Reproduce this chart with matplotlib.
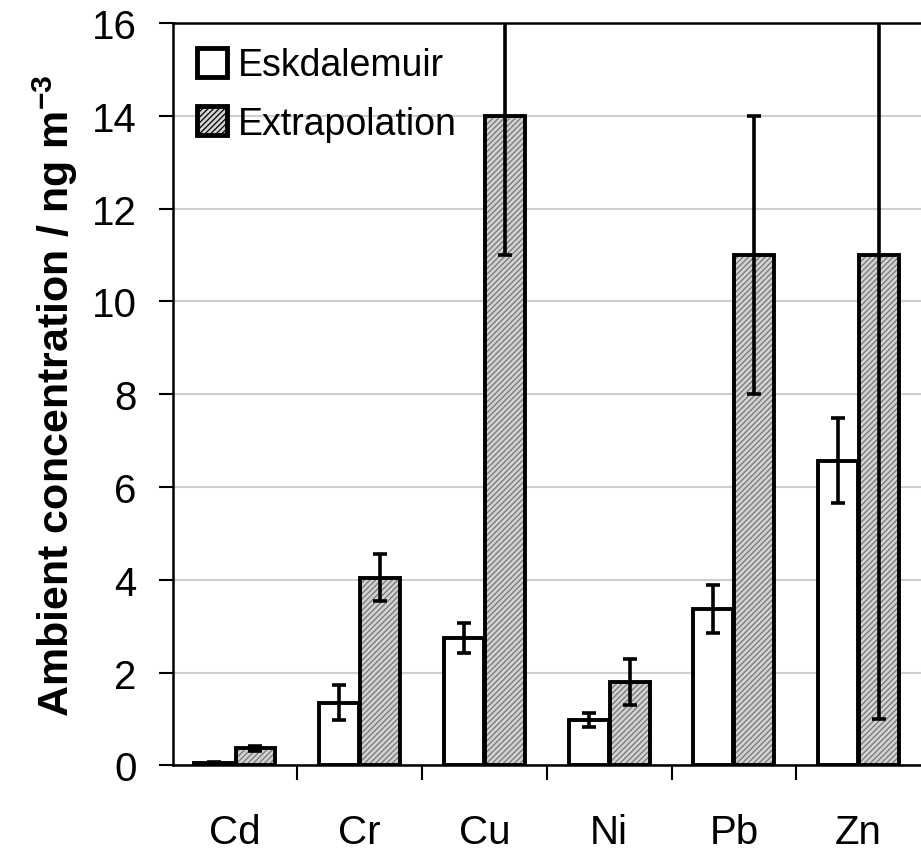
import matplotlib
matplotlib.use('Agg')
import matplotlib.pyplot as plt
from matplotlib.patches import Patch
import numpy as np

plt.rcParams['font.family'] = ['Liberation Sans', 'DejaVu Sans']
plt.rcParams['mathtext.fontset'] = 'custom'
plt.rcParams['mathtext.rm'] = 'Liberation Sans'
plt.rcParams['mathtext.bf'] = 'Liberation Sans:bold'
plt.rcParams['hatch.linewidth'] = 0.9

# metal concentrations (ng m-3)
metals = ['Cd', 'Cr', 'Cu', 'Ni', 'Pb', 'Zn']
eskdalemuir = [0.05, 1.35, 2.75, 0.97, 3.37, 6.57]
eskdalemuir_err = [0.03, 0.38, 0.33, 0.15, 0.52, 0.92]
extrapolation = [0.37, 4.05, 14.0, 1.80, 11.0, 11.0]
extrapolation_err = [0.05, 0.5, 3.0, 0.5, 3.0, 10.0]

fig = plt.figure(figsize=(9.21, 8.54), dpi=100)
ax = fig.add_axes([0.1873, 0.1025, 0.8127, 0.8694])

x = np.arange(len(metals))
w = 0.32
off = 0.165

# open bars
ax.bar(x - off, eskdalemuir, w, color='white', edgecolor='black', linewidth=2.8, zorder=3)
# hatched bars: fill first, then outline on top
ax.bar(x + off, extrapolation, w, color='#d2d2d2', edgecolor='#767676', hatch='//////',
       linewidth=0, zorder=3)
ax.bar(x + off, extrapolation, w, fill=False, edgecolor='black', linewidth=2.8, zorder=4)

errkw = dict(fmt='none', ecolor='black', elinewidth=2.6, capsize=4.8, capthick=2.6, zorder=5)
ax.errorbar(x - off, eskdalemuir, yerr=eskdalemuir_err, **errkw)
ax.errorbar(x + off, extrapolation, yerr=extrapolation_err, **errkw)

ax.set_xlim(-0.5, len(metals) - 0.5)
ax.set_ylim(0, 16)
ax.set_yticks(np.arange(0, 17, 2))
ax.set_xticks(x)
ax.set_xticklabels(metals)
ax.set_xticks(np.arange(0.5, len(metals) - 0.5, 1), minor=True)
ax.tick_params(axis='x', which='major', length=0, pad=34, labelsize=29)
ax.tick_params(axis='x', which='minor', length=11, width=1.5, direction='out')
ax.tick_params(axis='y', length=10, width=1.5, direction='out', pad=16, labelsize=29)

ax.yaxis.grid(True, color='#cfcfcf', linewidth=1.5, zorder=0)
ax.set_axisbelow(True)
for s in ['left', 'bottom', 'top']:
    ax.spines[s].set_linewidth(1.8)
    ax.spines[s].set_color('black')
ax.spines['right'].set_visible(False)

ax.set_ylabel(r'Ambient concentration / ng m$^{\mathbf{-3}}$', fontsize=31,
              fontweight='bold', labelpad=8)

handles = [Patch(facecolor='white', edgecolor='black', linewidth=3.5),
           Patch(facecolor='#d2d2d2', edgecolor='black', linewidth=3.5, hatch='//////')]
ax.legend(handles, ['Eskdalemuir', 'Extrapolation'], loc='upper left',
          bbox_to_anchor=(0.0, 1.0), frameon=False, fontsize=27,
          handlelength=0.8, handleheight=0.8, handletextpad=0.3,
          labelspacing=0.6, borderaxespad=0.25)

fig.savefig('out.png', dpi=100)
